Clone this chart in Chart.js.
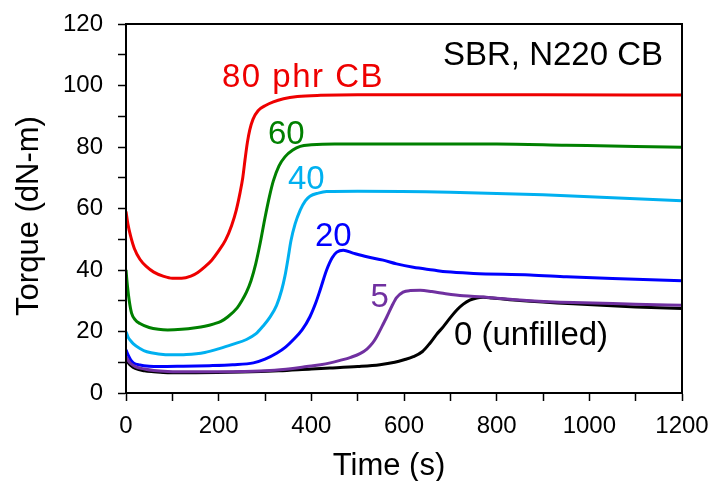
<!DOCTYPE html>
<html>
<head>
<meta charset="utf-8">
<script src="https://cdn.jsdelivr.net/npm/chart.js@4/dist/chart.umd.min.js"></script>
<style>
  html, body { margin: 0; padding: 0; background: #ffffff; }
  #wrap { width: 712px; height: 481px; }
</style>
</head>
<body>
<div id="wrap"><canvas id="c" width="712" height="481"></canvas></div>
<script>
// ---------- data ----------
const xTicks = [0, 200, 400, 600, 800, 1000, 1200];
const yTicks = [0, 20, 40, 60, 80, 100, 120];

const t80 = [0, 4, 10, 18, 30, 45, 60, 80, 100, 120, 140, 155, 170, 185, 200, 215, 228, 238, 246, 252, 257, 262, 267, 274, 285, 300, 318, 340, 370, 420, 500, 700, 900, 1200];
const v80 = [59, 55, 51, 47, 43.5, 41, 39.3, 38, 37.3, 37.3, 38, 39.2, 41, 43.2, 46.2, 49.8, 54.5, 59.5, 65, 70, 76, 81.5, 85.5, 89, 91.8, 93.4, 94.7, 95.7, 96.4, 96.8, 97, 97, 97, 96.9];

const t60 = [0, 3, 7, 12, 20, 30, 50, 70, 90, 120, 150, 170, 190, 205, 220, 240, 250, 260, 270, 280, 290, 300, 310, 318, 330, 343, 360, 376, 400, 450, 600, 800, 950, 1100, 1200];
const v60 = [40, 35, 30, 26, 23.8, 22.6, 21.3, 20.7, 20.5, 20.7, 21.2, 21.7, 22.5, 23.3, 24.8, 27.7, 30, 32.8, 36.6, 42, 49, 57, 64.2, 69, 73.8, 76.8, 79, 80.2, 80.7, 81, 81, 81, 80.6, 80.2, 79.9];

const t40 = [0, 5, 10, 16, 30, 45, 70, 100, 130, 170, 203, 230, 260, 280, 296, 310, 325, 336, 343, 350, 356, 365, 376, 387, 397, 415, 433, 500, 700, 900, 1050, 1200];
const v40 = [19.9, 18, 17, 16, 14.5, 13.4, 12.7, 12.4, 12.5, 13.2, 14.5, 15.8, 17.4, 19.2, 21.8, 24.5, 28.5, 33.5, 38, 44, 49.5, 55, 59.5, 62.5, 64, 65, 65.5, 65.6, 65.3, 64.5, 63.5, 62.5];

const t20 = [0, 5, 10, 16, 30, 50, 73, 120, 180, 230, 275, 300, 325, 345, 361, 380, 397, 410, 419, 433, 445, 455, 469, 490, 520, 555, 584, 620, 663, 692, 750, 872, 951, 1050, 1200];
const v20 = [14, 12.2, 10.8, 9.8, 9.1, 8.7, 8.6, 8.7, 8.9, 9.2, 9.8, 11, 12.9, 15, 17.3, 20.5, 24.8, 29.5, 33.5, 40, 44, 45.8, 46.4, 45.5, 44.3, 43.2, 42, 40.9, 40, 39.4, 38.9, 38.4, 37.8, 37.2, 36.5];

const t5 = [0, 5, 10, 20, 40, 60, 90, 150, 250, 311, 360, 390, 420, 441, 462, 485, 505, 520, 532, 541, 552, 563, 574, 584, 598, 613, 635, 660, 690, 728, 771, 800, 872, 965, 1100, 1200];
const v5 = [11.8, 10.5, 9.6, 8.6, 7.8, 7.3, 7, 6.9, 7, 7.3, 8, 8.6, 9.2, 9.8, 10.6, 11.6, 12.8, 14.3, 16.2, 18.3, 21.5, 24.8, 28.3, 31, 32.8, 33.3, 33.4, 33, 32.3, 31.6, 31.2, 30.8, 30.0, 29.4, 28.9, 28.5];

const t0 = [0, 5, 10, 20, 40, 60, 90, 150, 250, 330, 400, 440, 500, 548, 580, 600, 620, 640, 656, 670, 685, 700, 714, 728, 742, 757, 771, 790, 850, 965, 1100, 1200];
const v0 = [11, 9.8, 9, 8, 7.2, 6.9, 6.6, 6.6, 6.8, 7.2, 7.8, 8.1, 8.6, 9.2, 10, 10.8, 11.8, 13.5, 16.2, 19, 21.6, 24.5, 27, 28.9, 30.2, 30.9, 31.1, 30.9, 30.1, 29, 28, 27.5];

const seriesNames = ['80 phr CB', '60', '40', '20', '5', '0 (unfilled)'];
const seriesColors = ['#ee0000', '#008000', '#00b0f0', '#0000ff', '#7030a0', '#000000'];

// ---------- build ----------
function pts(t, v) { return t.map((x, i) => ({ x: x, y: v[i] })); }
const seriesData = [pts(t80, v80), pts(t60, v60), pts(t40, v40), pts(t20, v20), pts(t5, v5), pts(t0, v0)];
const drawOrder = [1, 2, 3, 4, 0, 5]; // lower = on top; purple over black

const datasets = seriesData.map((d, i) => ({
  label: seriesNames[i],
  data: d,
  borderColor: seriesColors[i],
  backgroundColor: seriesColors[i],
  borderWidth: 3,
  pointRadius: 0,
  fill: false,
  cubicInterpolationMode: 'monotone',
  order: drawOrder[i]
}));

const FONT = "'Liberation Sans', Arial, sans-serif";

const decor = {
  id: 'decor',
  afterDraw(chart) {
    const ctx = chart.ctx;
    const a = chart.chartArea;
    ctx.save();
    // frame
    ctx.strokeStyle = '#000';
    ctx.lineWidth = 2;
    ctx.strokeRect(a.left, a.top, a.right - a.left, a.bottom - a.top);

    // axis titles
    ctx.fillStyle = '#000';
    ctx.font = '31px ' + FONT;
    ctx.textAlign = 'center';
    ctx.textBaseline = 'alphabetic';
    ctx.fillText('Time (s)', 389, 475);
    ctx.save();
    ctx.translate(37.5, 216);
    ctx.rotate(-Math.PI / 2);
    ctx.fillText('Torque (dN-m)', 0, 0);
    ctx.restore();

    // annotations
    ctx.textAlign = 'left';
    ctx.font = '33px ' + FONT;
    const notes = [
      ['SBR, N220 CB', '#000000', 443, 65, 0],
      [seriesNames[0], seriesColors[0], 222, 87, 1.5],
      [seriesNames[1], seriesColors[1], 268, 143.5, 0],
      [seriesNames[2], seriesColors[2], 288, 188.5, 0],
      [seriesNames[3], seriesColors[3], 315, 246, 0],
      [seriesNames[4], seriesColors[4], 370.5, 307, 0],
      [seriesNames[5], seriesColors[5], 454, 345, 0]
    ];
    notes.forEach(n => {
      ctx.fillStyle = n[1];
      ctx.letterSpacing = n[4] + 'px';
      ctx.fillText(n[0], n[2], n[3]);
    });
    ctx.letterSpacing = '0px';
    ctx.restore();
  }
};

new Chart(document.getElementById('c'), {
  type: 'line',
  data: { datasets: datasets },
  options: {
    responsive: false,
    devicePixelRatio: 1,
    animation: false,
    layout: { padding: { top: 24, right: 30, left: 0, bottom: 0 } },
    plugins: { legend: { display: false }, tooltip: { enabled: false }, title: { display: false } },
    scales: {
      x: {
        type: 'linear',
        min: xTicks[0],
        max: xTicks[xTicks.length - 1],
        afterFit(s) { s.height = 88; s.paddingLeft = 0; s.paddingRight = 0; },
        ticks: {
          stepSize: 100,
          autoSkip: false,
          maxRotation: 0,
          padding: 11,
          color: '#000',
          font: { family: FONT, size: 24 },
          callback: (v) => xTicks.includes(v) ? String(v) : ''
        },
        grid: { drawOnChartArea: false, drawTicks: true, tickLength: 8, tickColor: '#000', tickWidth: 1.5 },
        border: { display: true, color: '#000', width: 2 }
      },
      y: {
        type: 'linear',
        min: yTicks[0],
        max: yTicks[yTicks.length - 1],
        afterFit(s) { s.width = 126; s.paddingTop = 0; s.paddingBottom = 0; },
        ticks: {
          stepSize: 10,
          autoSkip: false,
          padding: 15,
          color: '#000',
          font: { family: FONT, size: 24 },
          callback: (v) => yTicks.includes(v) ? String(v) : ''
        },
        grid: { drawOnChartArea: false, drawTicks: true, tickLength: 8, tickColor: '#000', tickWidth: 1.5 },
        border: { display: true, color: '#000', width: 2 }
      }
    }
  },
  plugins: [decor]
});
</script>
</body>
</html>
